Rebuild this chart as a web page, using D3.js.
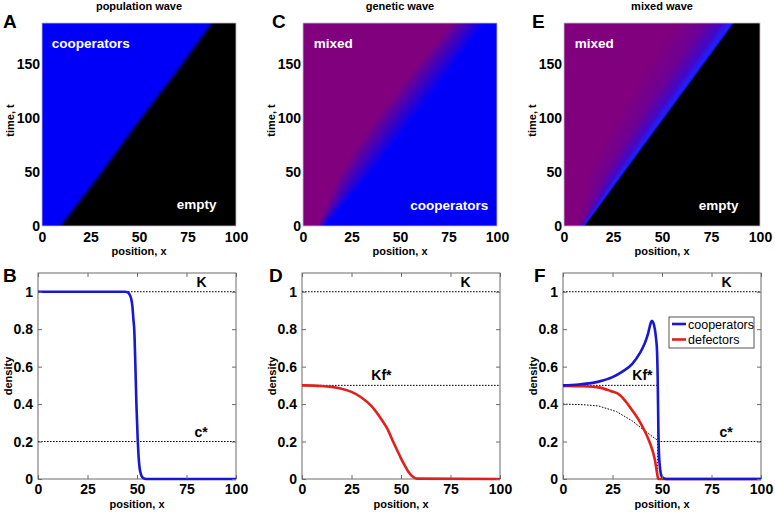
<!DOCTYPE html>
<html><head><meta charset="utf-8">
<script src="https://cdn.jsdelivr.net/npm/d3@7"></script>
<style>
body{margin:0;background:#fff;}
svg{display:block;font-family:"Liberation Sans",Arial,Helvetica,sans-serif;}
</style></head><body>
<svg id="chart" width="775" height="515"></svg>
<script>
// ---------- data ----------
const xTicks = [0, 25, 50, 75, 100];
const tTicks = [0, 50, 100, 150];
const densityTicks = [0, 0.2, 0.4, 0.6, 0.8, 1];

// heat maps: front position / spread read at sample times
const heatTimes = [0, 47, 94, 141, 188];
const popFront  = [10, 30, 49, 69, 88];
const popBlur   = [2, 2, 2, 2, 2];
const genFront  = [9.5, 27, 46, 66, 86];
const genSpread = [2, 9, 11, 11, 10];
const mixFront  = [10, 29, 48, 67, 86];
const mixSpread = [3, 17, 23, 27, 30];

// B: population wave profile
const popX = [0, 44, 45, 46, 47, 47.7, 48.2, 48.6, 49.2, 49.7, 50.4, 50.8, 51.3, 52, 53, 54, 55, 100];
const popC = [1, 1, 0.998, 0.99, 0.965, 0.92, 0.85, 0.8, 0.6, 0.4, 0.2, 0.12, 0.06, 0.025, 0.006, 0.001, 0, 0];

// D: genetic wave profile (defectors)
const genX = [0, 10, 15, 20, 25, 30, 35, 40, 43, 46, 48, 50, 52, 54, 56, 58, 100];
const genD = [0.5, 0.497, 0.492, 0.482, 0.465, 0.435, 0.39, 0.32, 0.27, 0.2, 0.155, 0.11, 0.07, 0.035, 0.012, 0.002, 0];

// F: mixed wave profiles
const mixCX = [0, 8, 18, 25, 30, 35, 38.8, 41.3, 43, 44.2, 44.9, 45.6, 46.4, 47, 47.5, 47.8, 48, 48.2, 48.5, 49, 49.8, 51, 52, 100];
const mixC  = [0.5, 0.505, 0.52, 0.544, 0.573, 0.615, 0.672, 0.725, 0.778, 0.83, 0.845, 0.835, 0.8, 0.75, 0.68, 0.55, 0.4, 0.25, 0.13, 0.06, 0.015, 0.003, 0, 0];
const mixDX = [0, 10, 18.6, 24, 28.7, 32, 35.4, 38, 40.5, 43.9, 46.4, 47.5, 48.1, 100];
const mixD  = [0.497, 0.495, 0.488, 0.47, 0.449, 0.41, 0.36, 0.32, 0.272, 0.192, 0.103, 0.032, 0, 0];
const cStarX = [0, 10, 18, 27, 35, 40, 45, 48, 49, 100];
const cStarY = [0.4, 0.397, 0.39, 0.36, 0.31, 0.268, 0.228, 0.205, 0.2, 0.2];
const kfX = [0, 47.8, 47.8];
const kfY = [0.5, 0.5, 0];

const K = 1, cStar = 0.2, KfStar = 0.5;
const legendNames = ["cooperators", "defectors"];

// ---------- styles ----------
const BLUE = "#0000fa", PURPLE = "#80007e", BLACK = "#000000";
const LBLUE = "#1717d4", LRED = "#e0201c";
const AXC = "#6a6a6a";

const svg = d3.select("#chart");
const defs = svg.append("defs");

function styleAxis(g, size) {
  g.select(".domain").remove();
  g.selectAll(".tick line").attr("stroke", AXC);
  g.selectAll("text").attr("font-family", null).attr("font-size", size).attr("font-weight", "bold").attr("fill", "#000");
}

// ---------- heat maps ----------
const topBoxes = {
  A: {x0: 42, x1: 236, y0: 23, y1: 226, lx: 3},
  C: {x0: 303, x1: 497, y0: 23, y1: 226, lx: 272},
  E: {x0: 564, x1: 760, y0: 23, y1: 226, lx: 532}
};

function heatPanel(id, box, title, letter, frontArr, stopsFor, labels) {
  const x = d3.scaleLinear().domain([0, 100]).range([box.x0, box.x1]);
  const t = d3.scaleLinear().domain([0, 188]).range([box.y1, box.y0]);
  const fS = d3.scaleLinear().domain(heatTimes).range(frontArr);
  const g = svg.append("g").attr("shape-rendering", "crispEdges");
  const rows = d3.range(box.y0, box.y1, 1);
  rows.forEach(py => {
    const tc = t.invert(py + 0.5);
    const f = fS(tc);
    const spec = stopsFor(tc, f);
    const gid = `g${id}${py}`;
    const lg = defs.append("linearGradient").attr("id", gid)
      .attr("gradientUnits", "userSpaceOnUse")
      .attr("x1", x(spec.from)).attr("x2", x(spec.to)).attr("y1", 0).attr("y2", 0);
    spec.stops.forEach(s => lg.append("stop").attr("offset", s[0]).attr("stop-color", s[1]));
    g.append("rect")
      .attr("x", x(0)).attr("width", x(100) - x(0))
      .attr("y", py).attr("height", 1)
      .attr("fill", `url(#${gid})`);
  });
  svg.append("rect").attr("x", box.x0).attr("y", box.y0).attr("width", box.x1 - box.x0).attr("height", box.y1 - box.y0)
    .attr("fill", "none").attr("stroke", "#c9b8c9").attr("stroke-width", 0.8);

  const ax = svg.append("g").attr("transform", `translate(0,${box.y1})`)
    .call(d3.axisBottom(x).tickValues(xTicks).tickSize(0).tickPadding(6));
  styleAxis(ax, 14);
  const ay = svg.append("g").attr("transform", `translate(${box.x0},0)`)
    .call(d3.axisLeft(t).tickValues(tTicks).tickSize(0).tickPadding(2));
  styleAxis(ay, 14);

  const cx = (box.x0 + box.x1) / 2;
  svg.append("text").attr("x", cx).attr("y", 10).attr("text-anchor", "middle")
    .attr("font-size", 11).attr("font-weight", "bold").text(title);
  svg.append("text").attr("x", cx).attr("y", 255).attr("text-anchor", "middle")
    .attr("font-size", 11).attr("font-weight", "bold").text("position, x");
  svg.append("text").attr("transform", `translate(${box.x0 - 28},${(box.y0 + box.y1) / 2 - 4}) rotate(-90)`)
    .attr("text-anchor", "middle").attr("font-size", 11).attr("font-weight", "bold").text("time, t");
  svg.append("text").attr("x", box.lx).attr("y", 28).attr("font-size", 19).attr("font-weight", "bold").text(letter);

  labels.forEach(l => {
    svg.append("text").attr("x", x(l.x)).attr("y", t(l.t)).attr("text-anchor", l.anchor)
      .attr("fill", "#fff").attr("font-size", 13.5).attr("font-weight", "bold").text(l.text);
  });
}

const popBlurS = d3.scaleLinear().domain(heatTimes).range(popBlur);
heatPanel("A", topBoxes.A, "population wave", "A", popFront, (tc, f) => {
  const w = popBlurS(tc);
  return {from: f - w, to: f + w * 0.7, stops: [[0, BLUE], [1, BLACK]]};
}, [
  {text: "cooperators", x: 5, t: 165, anchor: "start"},
  {text: "empty", x: 90, t: 16, anchor: "end"}
]);

const genSpreadS = d3.scaleLinear().domain(heatTimes).range(genSpread);
heatPanel("C", topBoxes.C, "genetic wave", "C", genFront, (tc, f) => {
  const w = genSpreadS(tc);
  return {from: f - w, to: f + w * 0.8, stops: [[0, PURPLE], [0.5, "#4200bc"], [1, BLUE]]};
}, [
  {text: "mixed", x: 5.5, t: 165, anchor: "start"},
  {text: "cooperators", x: 95.5, t: 15, anchor: "end"}
]);

const mixSpreadS = d3.scaleLinear().domain(heatTimes).range(mixSpread);
heatPanel("E", topBoxes.E, "mixed wave", "E", mixFront, (tc, f) => {
  const w = mixSpreadS(tc);
  const edge = 1.2;
  const uf = w / (w + edge);
  return {from: f - w, to: f + edge, stops: [
    [0, PURPLE], [0.5 * uf, "#6e0094"], [0.82 * uf, "#4208c8"], [0.97 * uf, "#2020ff"], [uf, "#1818f0"], [1, BLACK]
  ]};
}, [
  {text: "mixed", x: 5.5, t: 165, anchor: "start"},
  {text: "empty", x: 89, t: 15, anchor: "end"}
]);

// ---------- profile panels ----------
const botBoxes = {
  B: {x0: 38, x1: 236, y0: 273, y1: 479, lx: 3},
  D: {x0: 302, x1: 500, y0: 273, y1: 479, lx: 269},
  F: {x0: 563, x1: 761, y0: 273, y1: 479, lx: 534}
};

function profilePanel(box, letter) {
  const x = d3.scaleLinear().domain([0, 100]).range([box.x0, box.x1]);
  const y = d3.scaleLinear().domain([0, 1.1]).range([box.y1, box.y0]);
  const g = svg.append("g");
  g.append("rect").attr("x", box.x0).attr("y", box.y0).attr("width", box.x1 - box.x0).attr("height", box.y1 - box.y0)
    .attr("fill", "#fff").attr("stroke", AXC).attr("stroke-width", 1);
  const ab = svg.append("g").attr("transform", `translate(0,${box.y1})`)
    .call(d3.axisBottom(x).tickValues(xTicks).tickSizeInner(-4).tickSizeOuter(0).tickPadding(5));
  styleAxis(ab, 14);
  const at = svg.append("g").attr("transform", `translate(0,${box.y0})`)
    .call(d3.axisTop(x).tickValues(xTicks).tickSizeInner(-4).tickSizeOuter(0).tickFormat(""));
  styleAxis(at, 14);
  const al = svg.append("g").attr("transform", `translate(${box.x0},0)`)
    .call(d3.axisLeft(y).tickValues(densityTicks).tickSizeInner(-4).tickSizeOuter(0).tickPadding(5).tickFormat(d3.format("~g")));
  styleAxis(al, 14);
  const ar = svg.append("g").attr("transform", `translate(${box.x1},0)`)
    .call(d3.axisRight(y).tickValues(densityTicks).tickSizeInner(-4).tickSizeOuter(0).tickFormat(""));
  styleAxis(ar, 14);

  const cx = (box.x0 + box.x1) / 2;
  svg.append("text").attr("x", cx).attr("y", 508).attr("text-anchor", "middle")
    .attr("font-size", 11).attr("font-weight", "bold").text("position, x");
  svg.append("text").attr("transform", `translate(${box.x0 - 26},${(box.y0 + box.y1) / 2}) rotate(-90)`)
    .attr("text-anchor", "middle").attr("font-size", 11).attr("font-weight", "bold").text("density");
  svg.append("text").attr("x", box.lx).attr("y", 282).attr("font-size", 19).attr("font-weight", "bold").text(letter);
  return {x, y, g};
}

function dotted(p, xs, ys) {
  const line = d3.line().x((d, i) => p.x(xs[i])).y((d, i) => p.y(ys[i]));
  p.g.append("path").attr("d", line(xs)).attr("fill", "none").attr("stroke", "#000")
    .attr("stroke-width", 1).attr("stroke-dasharray", "1.6,1.4");
}
function hline(p, v) { dotted(p, [0, 100], [v, v]); }
function curve(p, xs, ys, color) {
  const line = d3.line().x((d, i) => p.x(xs[i])).y((d, i) => p.y(ys[i])).curve(d3.curveMonotoneX);
  p.g.append("path").attr("d", line(xs)).attr("fill", "none").attr("stroke", color)
    .attr("stroke-width", 2.6).attr("stroke-linejoin", "round");
}
function label(p, text, xv, yv) {
  p.g.append("text").attr("x", p.x(xv)).attr("y", p.y(yv) - 5).attr("font-size", 14)
    .attr("font-weight", "bold").text(text);
}

// B
const pB = profilePanel(botBoxes.B, "B");
hline(pB, K); hline(pB, cStar);
label(pB, "K", 80, K); label(pB, "c*", 79, cStar);
curve(pB, popX, popC, LBLUE);

// D
const pD = profilePanel(botBoxes.D, "D");
hline(pD, K); hline(pD, KfStar);
label(pD, "K", 80, K); label(pD, "Kf*", 35, KfStar);
curve(pD, genX, genD, LRED);

// F
const pF = profilePanel(botBoxes.F, "F");
hline(pF, K);
dotted(pF, kfX, kfY);
dotted(pF, cStarX, cStarY);
label(pF, "K", 80, K); label(pF, "Kf*", 35, KfStar); label(pF, "c*", 79, cStar);
curve(pF, mixDX, mixD, LRED);
curve(pF, mixCX, mixC, LBLUE);

// legend
const lg = svg.append("g");
lg.append("rect").attr("x", 669).attr("y", 317).attr("width", 85).attr("height", 31)
  .attr("fill", "#fff").attr("stroke", "#555").attr("stroke-width", 1);
[LBLUE, LRED].forEach((c, i) => {
  const yy = 324 + i * 15.5;
  lg.append("line").attr("x1", 672).attr("x2", 686).attr("y1", yy).attr("y2", yy)
    .attr("stroke", c).attr("stroke-width", 2.6);
  lg.append("text").attr("x", 688).attr("y", yy + 4.5).attr("font-size", 12.5).text(legendNames[i]);
});
</script>
</body></html>
